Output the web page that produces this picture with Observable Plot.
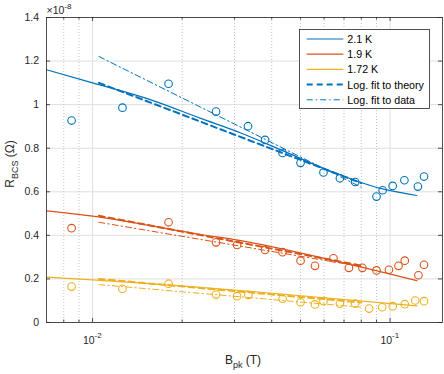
<!DOCTYPE html>
<html><head><meta charset="utf-8">
<script src="https://cdn.jsdelivr.net/npm/d3@7"></script>
<script src="https://cdn.jsdelivr.net/npm/@observablehq/plot@0.6"></script>
<style>html,body{margin:0;padding:0;background:#fff}svg{display:block}</style>
</head><body><div id="chart"></div>
<script>
// ---- data (R_BCS in units of 1e-8 Ohm, B_pk in T) ----
const seriesNames = ["2.1 K", "1.9 K", "1.72 K"];
const seriesColors = ["#0072BD", "#D95319", "#EDB120"];
const fitNames = ["Log. fit to theory", "Log. fit to data"];

const bMeas21 = [0.0085, 0.0126, 0.018, 0.026, 0.0333, 0.038, 0.0435, 0.05, 0.0597, 0.0678, 0.0763, 0.09, 0.0944, 0.102, 0.1117, 0.124, 0.13];
const rMeas21 = [0.927, 0.986, 1.096, 0.968, 0.901, 0.838, 0.778, 0.733, 0.689, 0.662, 0.645, 0.578, 0.607, 0.627, 0.653, 0.624, 0.670];
const bMeas19 = [0.0085, 0.018, 0.026, 0.0306, 0.038, 0.0435, 0.05, 0.0559, 0.0645, 0.0727, 0.0807, 0.09, 0.0991, 0.1067, 0.112, 0.1245, 0.13];
const rMeas19 = [0.433, 0.46, 0.368, 0.356, 0.333, 0.323, 0.284, 0.26, 0.295, 0.251, 0.251, 0.239, 0.242, 0.26, 0.284, 0.217, 0.265];
const bMeas172 = [0.0085, 0.0126, 0.018, 0.026, 0.0306, 0.0334, 0.0435, 0.05, 0.0559, 0.0597, 0.0678, 0.0763, 0.085, 0.094, 0.102, 0.112, 0.1215, 0.13];
const rMeas172 = [0.165, 0.155, 0.178, 0.128, 0.121, 0.127, 0.109, 0.093, 0.083, 0.098, 0.087, 0.087, 0.064, 0.070, 0.075, 0.084, 0.101, 0.098];

const bTh21 = [0.007, 0.01, 0.0157, 0.0231, 0.0315, 0.0435, 0.0597, 0.0763, 0.0944, 0.123];
const rTh21 = [1.16, 1.10, 1.022, 0.937, 0.870, 0.789, 0.708, 0.652, 0.613, 0.583];
const bTh19 = [0.007, 0.01, 0.0231, 0.0315, 0.0647, 0.123];
const rTh19 = [0.512, 0.488, 0.404, 0.376, 0.284, 0.192];
const bTh172 = [0.007, 0.01, 0.0315, 0.123];
const rTh172 = [0.208, 0.196, 0.147, 0.076];

const bFit = [0.0105, 0.08];
const rFitTheory21 = [1.10, 0.64];
const rFitData21 = [1.221, 0.621];
const rFitTheory19 = [0.49, 0.261];
const rFitData19 = [0.46, 0.257];
const rFitTheory172 = [0.20, 0.092];
const rFitData172 = [0.174, 0.07];

const yTicks = [0, 0.2, 0.4, 0.6, 0.8, 1, 1.2, 1.4];
const yTickLabels = ["0", "0.2", "0.4", "0.6", "0.8", "1", "1.2", "1.4"];
const xMajor = [0.01, 0.1];
const xMajorExp = ["-2", "-1"];
const xMinor = [0.008, 0.009, 0.02, 0.03, 0.04, 0.05, 0.06, 0.07, 0.08, 0.09];
const yExponent = "-8";

// ---- build ----
const zip = (b, r) => b.map((v, i) => ({b: v, r: r[i]}));
const meas = [zip(bMeas21, rMeas21), zip(bMeas19, rMeas19), zip(bMeas172, rMeas172)];
const theory = [zip(bTh21, rTh21), zip(bTh19, rTh19), zip(bTh172, rTh172)];
const fitT = [zip(bFit, rFitTheory21), zip(bFit, rFitTheory19), zip(bFit, rFitTheory172)];
const fitD = [zip(bFit, rFitData21), zip(bFit, rFitData19), zip(bFit, rFitData172)];

const W = 444, H = 374, mL = 46, mR = 2, mT = 17, mB = 52;
const pw = W - mL - mR, ph = H - mT - mB;
const axisColor = "#262626";
const FONT = "'Liberation Sans', Arial, Helvetica, sans-serif";

const marks = [
  Plot.gridY(yTicks, {stroke: "#dfdfdf", strokeOpacity: 1}),
  Plot.gridX(xMinor, {stroke: "#c4c4c4", strokeOpacity: 1, strokeDasharray: "1,2"}),
  Plot.gridX(xMajor, {stroke: "#dfdfdf", strokeOpacity: 1}),
];
for (let k = 0; k < 3; k++) {
  marks.push(Plot.line(theory[k], {x: "b", y: "r", stroke: seriesColors[k], strokeWidth: 1.2, curve: "monotone-x"}));
  marks.push(Plot.line(fitT[k], {x: "b", y: "r", stroke: seriesColors[k], strokeWidth: 2, strokeDasharray: "6,4"}));
  marks.push(Plot.line(fitD[k], {x: "b", y: "r", stroke: seriesColors[k], strokeWidth: 1, strokeDasharray: "6,3,1.5,3"}));
  marks.push(Plot.dot(meas[k], {x: "b", y: "r", r: 3.8, stroke: seriesColors[k], strokeWidth: 1.1, fill: "none"}));
}
marks.push(
  Plot.frame({stroke: axisColor, strokeWidth: 0.8}),
  Plot.tickY(yTicks, {y: d => d, stroke: axisColor, strokeWidth: 0.8, insetRight: pw - 4}),
  Plot.tickY(yTicks, {y: d => d, stroke: axisColor, strokeWidth: 0.8, insetLeft: pw - 4}),
  Plot.tickX(xMajor, {x: d => d, stroke: axisColor, strokeWidth: 0.8, insetTop: ph - 4}),
  Plot.tickX(xMajor, {x: d => d, stroke: axisColor, strokeWidth: 0.8, insetBottom: ph - 4}),
  Plot.tickX(xMinor, {x: d => d, stroke: axisColor, strokeWidth: 0.8, insetTop: ph - 2.5}),
  Plot.tickX(xMinor, {x: d => d, stroke: axisColor, strokeWidth: 0.8, insetBottom: ph - 2.5}),
  Plot.text(yTicks, {y: d => d, text: (d, i) => yTickLabels[i], frameAnchor: "left", textAnchor: "end", dx: -7.5, fill: axisColor, fontSize: 10.5}),
  Plot.text(xMajor, {x: d => d, text: () => "10", frameAnchor: "bottom", textAnchor: "end", lineAnchor: "bottom", dx: 2, dy: 21, fill: axisColor, fontSize: 10.5}),
  Plot.text(xMajor, {x: d => d, text: (d, i) => xMajorExp[i], frameAnchor: "bottom", textAnchor: "start", lineAnchor: "bottom", dx: 2, dy: 15.5, fill: axisColor, fontSize: 8})
);

const chart = Plot.plot({
  width: W, height: H,
  marginLeft: mL, marginRight: mR, marginTop: mT, marginBottom: mB,
  x: {type: "log", domain: [0.007, 0.15], axis: null},
  y: {domain: [0, 1.4], axis: null},
  style: {fontFamily: FONT, fontSize: "10.5px", background: "white", color: axisColor, overflow: "visible"},
  marks
});
document.getElementById("chart").appendChild(chart);

// ---- annotations: exponent, axis labels, legend ----
const svg = d3.select(chart);
const ex = svg.append("text").attr("x", mL + 0.5).attr("y", 14).attr("text-anchor", "start")
  .attr("font-family", FONT).attr("font-size", 10.5).attr("fill", axisColor);
ex.append("tspan").text("\u00d710");
ex.append("tspan").attr("dy", -5).attr("font-size", 8).text(yExponent);

const yl = svg.append("text").attr("transform", "translate(13.5,164) rotate(-90)").attr("text-anchor", "middle")
  .attr("font-family", FONT).attr("font-size", 12).attr("fill", axisColor);
yl.append("tspan").text("R");
yl.append("tspan").attr("dy", 4.5).attr("font-size", 9).text("BCS");
yl.append("tspan").attr("dy", -4.5).text(" (\u03a9)");

const xl = svg.append("text").attr("x", 243).attr("y", 363.5).attr("text-anchor", "middle")
  .attr("font-family", FONT).attr("font-size", 12).attr("fill", axisColor);
xl.append("tspan").text("B");
xl.append("tspan").attr("dy", 4.5).attr("font-size", 9).text("pk");
xl.append("tspan").attr("dy", -4.5).text(" (T)");

const lg = svg.append("g");
lg.append("rect").attr("x", 299.5).attr("y", 29.5).attr("width", 130).attr("height", 79)
  .attr("fill", "white").attr("stroke", axisColor).attr("stroke-width", 0.8);
const items = [
  {label: seriesNames[0], color: seriesColors[0], dash: null, w: 1.2},
  {label: seriesNames[1], color: seriesColors[1], dash: null, w: 1.2},
  {label: seriesNames[2], color: seriesColors[2], dash: null, w: 1.2},
  {label: fitNames[0], color: seriesColors[0], dash: "6,4", w: 2},
  {label: fitNames[1], color: seriesColors[0], dash: "6,3,1.5,3", w: 1},
];
items.forEach((it, i) => {
  const cy = 39 + i * 15.2;
  const ln = lg.append("line").attr("x1", 306.7).attr("x2", 343.3).attr("y1", cy).attr("y2", cy)
    .attr("stroke", it.color).attr("stroke-width", it.w);
  if (it.dash) ln.attr("stroke-dasharray", it.dash);
  lg.append("text").attr("x", 347.3).attr("y", cy + 4).attr("text-anchor", "start")
    .attr("font-family", FONT).attr("font-size", 10.7).attr("fill", "#000").text(it.label);
});
</script>
</body></html>
